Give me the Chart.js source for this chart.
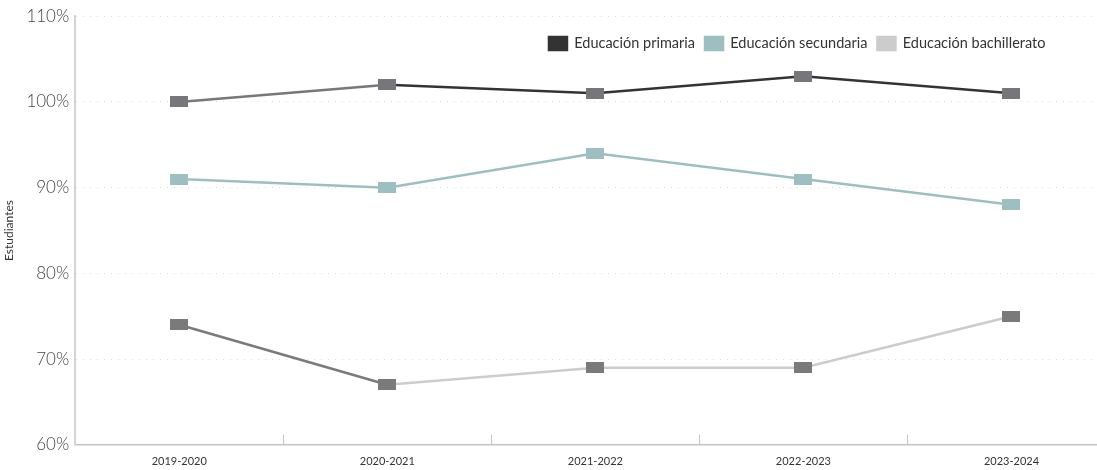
<!DOCTYPE html>
<html>
<head>
<meta charset="utf-8">
<script src="https://cdn.jsdelivr.net/npm/chart.js@4"></script>
<style>
  html, body { margin: 0; padding: 0; background: #fff; overflow: hidden; }
  #wrap { width: 1122px; height: 470px; position: relative; }
</style>
</head>
<body>
<div id="wrap"><canvas id="grafico"></canvas></div>
<script>
// datos
const cursos = ['2019-2020', '2020-2021', '2021-2022', '2022-2023', '2023-2024'];
const primaria = [100, 102, 101, 103, 101];
const secundaria = [91, 90, 94, 91, 88];
const bachillerato = [74, 67, 69, 69, 75];
const ticksY = [60, 70, 80, 90, 100, 110];

function marcador(color) {
  const c = document.createElement('canvas');
  c.width = 18; c.height = 11;
  const ctx = c.getContext('2d');
  ctx.fillStyle = color;
  ctx.fillRect(0, 0, 18, 11);
  return c;
}

const fuente = "Lato, 'Noto Sans', sans-serif";

// marcas del eje x hacia arriba, entre categorias
const marcasX = {
  id: 'marcasX',
  beforeDatasetsDraw(chart) {
    const x = chart.scales.x, area = chart.chartArea, ctx = chart.ctx;
    ctx.save();
    ctx.strokeStyle = '#c4c4c4';
    ctx.lineWidth = 1;
    for (let i = 1; i < cursos.length; i++) {
      const px = Math.round((x.getPixelForValue(i - 1) + x.getPixelForValue(i)) / 2) + 0.5;
      ctx.beginPath();
      ctx.moveTo(px, area.bottom);
      ctx.lineTo(px, area.bottom - 10);
      ctx.stroke();
    }
    ctx.restore();
  }
};

// la leyenda no ocupa alto y se pinta dentro del area
const moverLeyenda = {
  id: 'moverLeyenda',
  afterInit(chart) {
    const l = chart.legend;
    const orig = l.update.bind(l);
    l.update = function (w, h, m) { orig(w, h, m); this.height = 0; };
  },
  afterLayout(chart) {
    const l = chart.legend, a = chart.chartArea;
    l.left = a.left;
    l.right = a.right - 60;
    l.top = a.top + 10;
    l.bottom = l.top + 30;
  }
};

new Chart(document.getElementById('grafico'), {
  type: 'line',
  data: {
    labels: cursos,
    datasets: [{
      label: 'Educación primaria',
      data: primaria,
      borderColor: '#333333',
      backgroundColor: '#333333',
      borderWidth: 2.5,
      pointStyle: marcador('#77777b'),
      segment: { borderColor: c => c.p0DataIndex === 0 ? '#77777b' : undefined }
    }, {
      label: 'Educación secundaria',
      data: secundaria,
      borderColor: '#9dbfc2',
      backgroundColor: '#9dbfc2',
      borderWidth: 2.5,
      pointStyle: marcador('#9dbfc2')
    }, {
      label: 'Educación bachillerato',
      data: bachillerato,
      borderColor: '#cccccc',
      backgroundColor: '#cccccc',
      borderWidth: 2.5,
      pointStyle: marcador('#7a7a7a'),
      segment: { borderColor: c => c.p0DataIndex === 0 ? '#7a7a7a' : undefined }
    }]
  },
  options: {
    responsive: true,
    maintainAspectRatio: false,
    animation: false,
    layout: { padding: { top: 2, left: -3, right: 0, bottom: -8 } },
    plugins: {
      legend: {
        position: 'top',
        align: 'end',
        labels: {
          boxWidth: 18,
          boxHeight: 13,
          padding: 10,
          color: '#333',
          font: { family: fuente, size: 14.5 }
        }
      },
      tooltip: { enabled: false }
    },
    scales: {
      x: {
        offset: true,
        grid: { display: false, drawTicks: false, tickLength: 0 },
        border: { color: '#c4c4c4', width: 1.5 },
        ticks: { color: '#333', padding: 10, font: { family: fuente, size: 11 } }
      },
      y: {
        min: 60,
        max: 110,
        afterBuildTicks: axis => { axis.ticks = ticksY.map(v => ({ value: v })); },
        grid: { color: '#dddddd', drawTicks: false, lineWidth: 1 },
        border: { color: '#d4d4d4', width: 2, dash: [1, 6] },
        ticks: {
          color: '#444',
          padding: 6,
          font: { family: fuente, size: 17, weight: 300 },
          callback: v => v + '%'
        },
        title: {
          display: true,
          text: 'Estudiantes',
          color: '#333',
          padding: { top: 5, bottom: 4 },
          font: { family: fuente, size: 12 }
        }
      }
    }
  },
  plugins: [marcasX, moverLeyenda]
});
</script>
</body>
</html>
